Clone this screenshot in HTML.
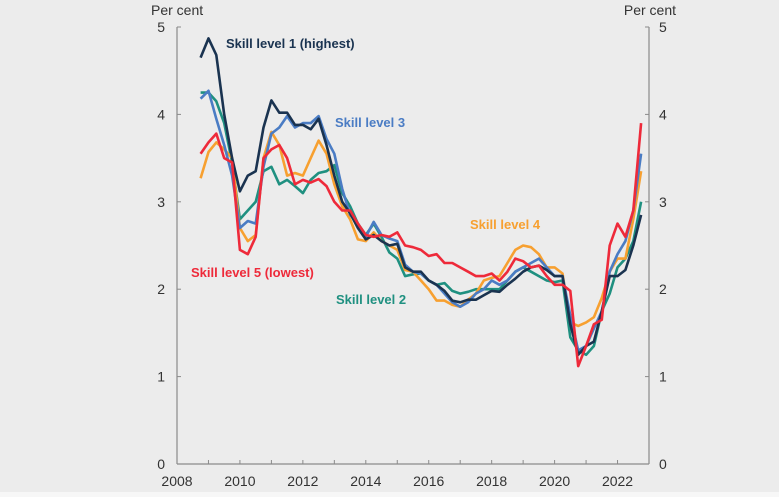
<!DOCTYPE html>
<html><head><meta charset="utf-8"><style>
html,body{margin:0;padding:0;background:#ececec;}
svg{display:block;font-family:"Liberation Sans",Arial,sans-serif;}
</style></head><body>
<svg id="chart" width="779" height="497" viewBox="0 0 779 497">
<rect x="0" y="0" width="779" height="492" fill="#ececec"/>
<rect x="0" y="492" width="779" height="5" fill="#f7f7f7"/>
<g id="axes"></g>
<g id="series"></g>
<text x="151" y="15" font-size="14" fill="#333">Per cent</text>
<text x="676" y="15" font-size="14" fill="#333" text-anchor="end">Per cent</text>
<g font-size="13" font-weight="bold">
<text x="226" y="48" fill="#1a3350">Skill level 1 (highest)</text>
<text x="335" y="127" fill="#4a7cc4">Skill level 3</text>
<text x="470" y="229" fill="#f7a030">Skill level 4</text>
<text x="191" y="277" fill="#ee2a3a">Skill level 5 (lowest)</text>
<text x="336" y="304" fill="#1f9080">Skill level 2</text>
</g>
</svg>
<script>
const startYear = 2008.75;
const step = 0.25;
const yTicks = [0,1,2,3,4,5];
const xTicks = [2008,2010,2012,2014,2016,2018,2020,2022];
const skill1 = [4.65,4.87,4.68,4.0,3.5,3.12,3.3,3.35,3.85,4.16,4.02,4.02,3.88,3.88,3.83,3.95,3.65,3.3,3.0,2.87,2.7,2.57,2.62,2.55,2.5,2.52,2.25,2.2,2.2,2.1,2.05,1.98,1.87,1.85,1.88,1.88,1.93,1.98,1.97,2.05,2.12,2.2,2.25,2.27,2.22,2.15,2.15,1.6,1.25,1.35,1.4,1.75,2.15,2.15,2.22,2.5,2.85];
const skill2 = [4.25,4.25,4.15,3.9,3.45,2.8,2.9,3.0,3.35,3.4,3.2,3.25,3.18,3.1,3.25,3.33,3.35,3.42,3.1,2.95,2.75,2.62,2.75,2.6,2.42,2.35,2.15,2.17,2.18,2.1,2.05,2.07,1.98,1.95,1.97,2.0,2.0,2.0,2.0,2.1,2.2,2.25,2.2,2.15,2.1,2.08,2.1,1.45,1.3,1.25,1.35,1.75,1.95,2.25,2.35,2.55,3.0];
const skill3 = [4.18,4.27,3.95,3.65,3.3,2.7,2.78,2.75,3.4,3.78,3.85,3.98,3.85,3.9,3.9,3.98,3.72,3.55,3.15,2.85,2.75,2.6,2.77,2.62,2.58,2.55,2.28,2.2,2.18,2.1,2.05,1.95,1.85,1.8,1.85,1.95,2.0,2.1,2.05,2.1,2.2,2.25,2.3,2.35,2.25,2.15,2.15,1.7,1.3,1.35,1.55,1.75,2.2,2.4,2.55,2.9,3.55];
const skill4 = [3.27,3.57,3.68,3.6,3.5,2.7,2.55,2.62,3.5,3.8,3.65,3.3,3.33,3.3,3.5,3.7,3.55,3.2,2.95,2.8,2.57,2.55,2.65,2.55,2.5,2.45,2.22,2.2,2.1,2.0,1.87,1.87,1.82,1.8,1.88,1.95,2.1,2.13,2.15,2.3,2.45,2.5,2.48,2.4,2.25,2.25,2.18,1.62,1.58,1.62,1.68,1.9,2.2,2.35,2.35,2.8,3.35];
const skill5 = [3.55,3.68,3.78,3.5,3.45,2.45,2.4,2.6,3.5,3.6,3.65,3.5,3.2,3.25,3.22,3.26,3.18,3.0,2.9,2.9,2.75,2.62,2.6,2.62,2.6,2.65,2.5,2.48,2.45,2.38,2.4,2.3,2.3,2.25,2.2,2.15,2.15,2.18,2.1,2.2,2.35,2.32,2.25,2.27,2.15,2.05,2.05,1.98,1.12,1.35,1.6,1.65,2.5,2.75,2.6,2.9,3.9];

const NS="http://www.w3.org/2000/svg";
const X0=177,X1=649,Y0=464,Y1=27,T0=2008,T1=2023,V0=0,V1=5;
function xs(t){return X0+(t-T0)/(T1-T0)*(X1-X0);}
function ys(v){return Y0-(v-V0)/(V1-V0)*(Y0-Y1);}
function mk(tag,attrs,parent){const e=document.createElementNS(NS,tag);for(const k in attrs)e.setAttribute(k,attrs[k]);parent.appendChild(e);return e;}
const axes=document.getElementById('axes');
const ac="#8a8a8a";
let l=mk('line',{x1:X0,y1:Y1,x2:X0,y2:Y0,stroke:ac,'stroke-width':1.2},axes);


l=mk('line',{x1:X1,y1:Y1,x2:X1,y2:Y0,stroke:ac,'stroke-width':1.2},axes);


l=mk('line',{x1:X0,y1:Y0,x2:X1,y2:Y0,stroke:ac,'stroke-width':1.2},axes);


yTicks.forEach(v=>{
  const y=ys(v);
  mk('line',{x1:X0,y1:y,x2:X0+4,y2:y,stroke:ac},axes);
  mk('line',{x1:X1-4,y1:y,x2:X1,y2:y,stroke:ac},axes);
  let t=mk('text',{x:X0-12,y:y+5,'font-size':14,fill:'#333','text-anchor':'end'},axes);
  t.textContent=v;
  
  
  t=mk('text',{x:X1+10,y:y+5,'font-size':14,fill:'#333'},axes);
  t.textContent=v;
  
  
});
for(let yr=T0+1;yr<T1;yr++){mk('line',{x1:xs(yr),y1:Y0,x2:xs(yr),y2:Y0-4,stroke:ac},axes);}
xTicks.forEach(yr=>{
  const t=mk('text',{x:xs(yr),y:486,'font-size':14,fill:'#333','text-anchor':'middle'},axes);
  t.textContent=yr;
  
  
});
const sg=document.getElementById('series');
const defs=[[skill2,'#1f9080','skill-2'],[skill4,'#f7a030','skill-4'],[skill3,'#4a7cc4','skill-3'],[skill1,'#1a3350','skill-1'],[skill5,'#ee2a3a','skill-5']];
defs.forEach(([arr,col,nm])=>{
  const pts=arr.map((v,i)=>xs(startYear+i*step).toFixed(1)+','+ys(v).toFixed(1)).join(' ');
  const p=mk('polyline',{points:pts,fill:'none',stroke:col,'stroke-width':2.6,'stroke-linejoin':'round'},sg);
  
  
});
</script>
</body></html>
